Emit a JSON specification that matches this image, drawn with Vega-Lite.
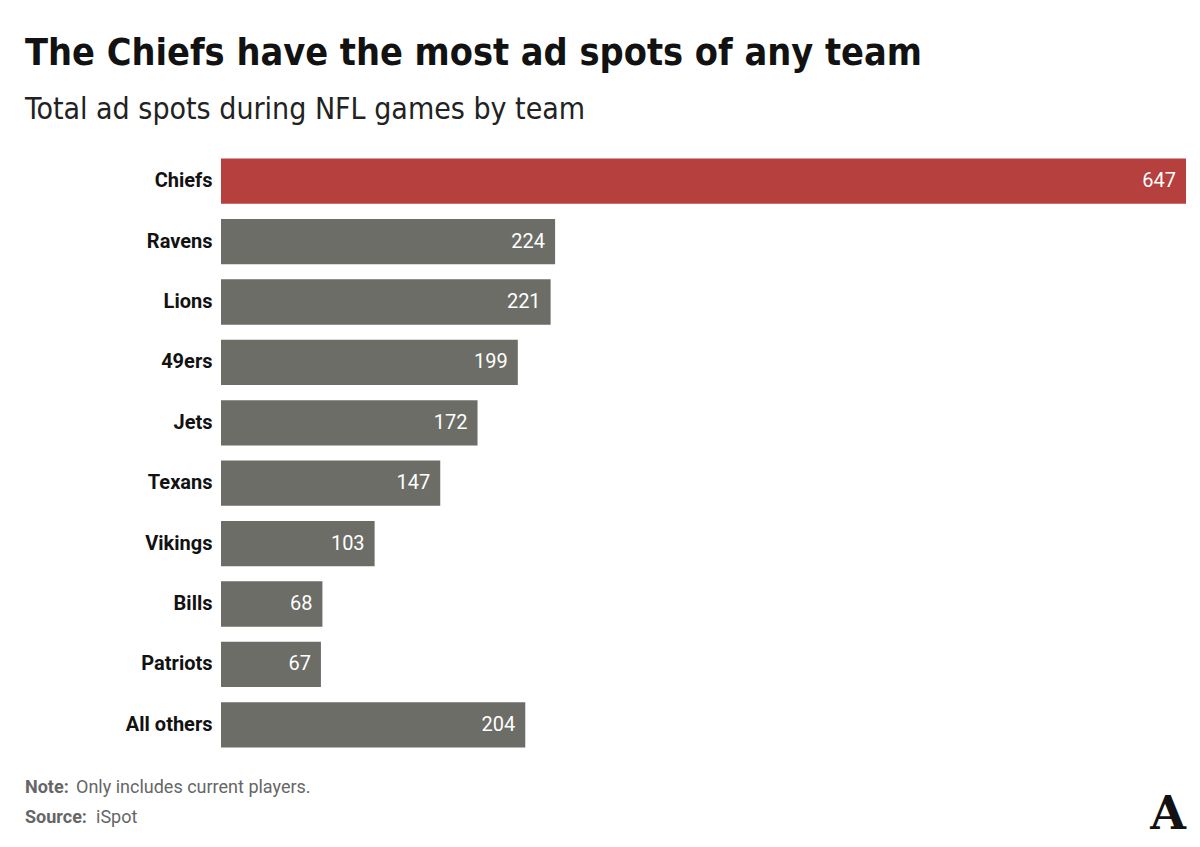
{
  "$schema": "https://vega.github.io/schema/vega-lite/v6.json",
  "padding": {"left": 25, "top": 34, "right": 12, "bottom": 5},
  "background": "white",
  "title": {
    "text": "The Chiefs have the most ad spots of any team",
    "subtitle": "Total ad spots during NFL games by team",
    "anchor": "start",
    "font": "DejaVu Sans Condensed",
    "fontSize": 37.5,
    "fontWeight": "bold",
    "color": "#121212",
    "subtitleFont": "DejaVu Sans Condensed",
    "subtitleFontSize": 30,
    "subtitleColor": "#222222",
    "subtitlePadding": 23,
    "offset": 26
  },
  "spacing": 18,
  "vconcat": [
    {
      "width": 965,
      "height": 604,
      "data": {
        "values": [
          {"team": "Chiefs", "spots": 647},
          {"team": "Ravens", "spots": 224},
          {"team": "Lions", "spots": 221},
          {"team": "49ers", "spots": 199},
          {"team": "Jets", "spots": 172},
          {"team": "Texans", "spots": 147},
          {"team": "Vikings", "spots": 103},
          {"team": "Bills", "spots": 68},
          {"team": "Patriots", "spots": 67},
          {"team": "All others", "spots": 204}
        ]
      },
      "encoding": {
        "y": {
          "field": "team",
          "type": "nominal",
          "sort": null,
          "scale": {"paddingInner": 0.25, "paddingOuter": 0.125},
          "axis": {
            "title": null,
            "domain": false,
            "ticks": false,
            "labelFont": "Roboto",
            "labelFontSize": 20,
            "labelFontWeight": "bold",
            "labelColor": "#121212",
            "labelPadding": 9,
            "minExtent": 196,
            "maxExtent": 196
          }
        },
        "x": {
          "field": "spots",
          "type": "quantitative",
          "scale": {"domain": [0, 647], "nice": false},
          "axis": null
        }
      },
      "layer": [
        {
          "mark": {"type": "bar"},
          "encoding": {
            "color": {
              "condition": {"test": "datum.team === 'Chiefs'", "value": "#b5403e"},
              "value": "#6c6d67"
            }
          }
        },
        {
          "mark": {"type": "text", "align": "right", "dx": -10, "color": "white", "font": "Roboto", "fontSize": 20},
          "encoding": {"text": {"field": "spots", "type": "quantitative"}}
        }
      ]
    },
    {
      "width": 965,
      "height": 60,
      "encoding": {
        "y": {"field": "line", "type": "nominal", "sort": null, "axis": null}
      },
      "layer": [
        {
          "data": {"values": [{"line": "Note", "label": "Note:"}, {"line": "Source", "label": "Source:"}]},
          "mark": {"type": "text", "align": "left", "font": "Roboto", "fontSize": 18, "fontWeight": "bold", "color": "#666666"},
          "encoding": {"x": {"value": -196}, "text": {"field": "label"}}
        },
        {
          "data": {"values": [{"line": "Note", "text": "Only includes current players."}]},
          "mark": {"type": "text", "align": "left", "dx": 51, "font": "Roboto", "fontSize": 18, "color": "#666666"},
          "encoding": {"x": {"value": -196}, "text": {"field": "text"}}
        },
        {
          "data": {"values": [{"line": "Source", "text": "iSpot"}]},
          "mark": {"type": "text", "align": "left", "dx": 71, "font": "Roboto", "fontSize": 18, "color": "#666666"},
          "encoding": {"x": {"value": -196}, "text": {"field": "text"}}
        },
        {
          "data": {"values": [{"line": "Source", "text": "A"}]},
          "mark": {"type": "text", "align": "right", "baseline": "bottom", "dy": 21, "font": "DejaVu Serif", "fontSize": 46, "fontWeight": "bold", "color": "#121212"},
          "encoding": {"x": {"value": 965}, "text": {"field": "text"}}
        }
      ]
    }
  ],
  "config": {"view": {"stroke": null}}
}
